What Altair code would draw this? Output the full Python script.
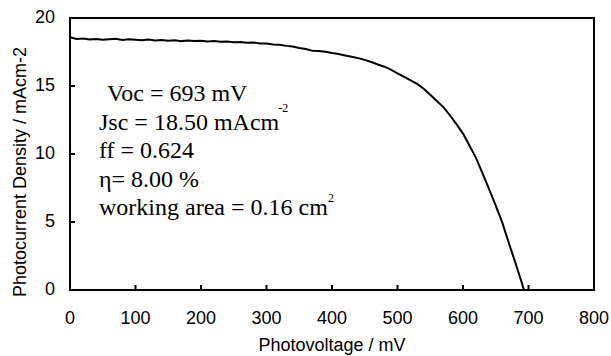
import altair as alt
import pandas as pd

# J-V curve
voltage = [0, 10, 20, 30, 40, 50, 60, 70, 80, 90,
           100, 110, 120, 130, 140, 150, 160, 170, 180, 190,
           200, 210, 220, 230, 240, 250, 260, 270, 280, 290,
           300, 310, 320, 330, 340, 350, 360, 370, 380, 390,
           400, 410, 420, 430, 440, 450, 460, 470, 480, 490,
           500, 510, 520, 530, 540, 550, 560, 570, 580, 590,
           600, 610, 620, 630, 640, 650, 660, 670, 680, 690, 693]
current = [18.58, 18.45, 18.50, 18.42, 18.46, 18.40, 18.44, 18.47, 18.38, 18.43,
           18.40, 18.36, 18.42, 18.35, 18.38, 18.32, 18.36, 18.30, 18.34, 18.31,
           18.33, 18.28, 18.30, 18.25, 18.27, 18.22, 18.24, 18.18, 18.20, 18.12,
           18.12, 18.06, 18.03, 17.95, 17.90, 17.80, 17.72, 17.60, 17.58, 17.52,
           17.42, 17.35, 17.25, 17.15, 17.05, 16.92, 16.76, 16.58, 16.42, 16.20,
           15.92, 15.68, 15.42, 15.15, 14.80, 14.35, 13.90, 13.45, 12.85, 12.20,
           11.50, 10.60, 9.70, 8.55, 7.40, 6.20, 4.95, 3.45, 2.00, 0.50, 0.00]

x_ticks = [0, 100, 200, 300, 400, 500, 600, 700, 800]
y_ticks = [0, 5, 10, 15, 20]
x_range = [0, 800]
y_range = [0, 20]
x_title = "Photovoltage / mV"
y_title = "Photocurrent Density / mAcm-2"

ann_text = ["Voc = 693 mV", "Jsc = 18.50 mAcm", "ff = 0.624", "η= 8.00 %",
            "working area = 0.16 cm"]
ann_x = [56.5, 44.3, 44.3, 44.3, 44.3]
ann_y = [13.90, 11.80, 9.71, 7.61, 5.51]

sup_text = ["-2", "2"]
sup_x = [318, 394]
sup_y = [13.08, 6.50]

W, H = 524, 272
# inward tick length, in axis units (about 5 px)
tick_len_x = 5 * (x_range[1] - x_range[0]) / W
tick_len_y = 5 * (y_range[1] - y_range[0]) / H

curve = pd.DataFrame({"V": voltage, "J": current})
ann = pd.DataFrame({"t": ann_text, "x": ann_x, "y": ann_y})
sup = pd.DataFrame({"t": sup_text, "x": sup_x, "y": sup_y})
xlab = pd.DataFrame({"v": x_ticks, "t": [str(v) for v in x_ticks]})
ylab = pd.DataFrame({"v": y_ticks, "t": [str(v) for v in y_ticks]})
titles_x = pd.DataFrame({"t": [x_title]})
titles_y = pd.DataFrame({"t": [y_title]})

# plot frame as one closed polyline
frame = pd.DataFrame({"fx": [x_range[0], x_range[0], x_range[1], x_range[1], x_range[0]],
                      "fy": [y_range[0], y_range[1], y_range[1], y_range[0], y_range[0]],
                      "o": [0, 1, 2, 3, 4]})

# tick segments built from the tick lists
tick_rows = []
for v in x_ticks:
    tick_rows.append({"k": f"x{v}", "tx": v, "ty": y_range[0], "o": 0})
    tick_rows.append({"k": f"x{v}", "tx": v, "ty": y_range[0] + tick_len_y, "o": 1})
for v in y_ticks:
    tick_rows.append({"k": f"y{v}", "tx": x_range[0], "ty": v, "o": 0})
    tick_rows.append({"k": f"y{v}", "tx": x_range[0] + tick_len_x, "ty": v, "o": 1})
ticks = pd.DataFrame(tick_rows)

xscale = alt.Scale(domain=x_range, nice=False)
yscale = alt.Scale(domain=y_range, nice=False)

sans = dict(font="Liberation Sans", fontSize=18, color="black")

line = alt.Chart(curve).mark_line(color="black", strokeWidth=2).encode(
    x=alt.X("V:Q", scale=xscale, axis=None),
    y=alt.Y("J:Q", scale=yscale, axis=None),
)

frame_line = alt.Chart(frame).mark_line(color="black", strokeWidth=2,
                                        strokeCap="square").encode(
    x=alt.X("fx:Q", scale=xscale, axis=None),
    y=alt.Y("fy:Q", scale=yscale, axis=None),
    order="o:Q",
)

tick_lines = alt.Chart(ticks).mark_line(color="black", strokeWidth=2).encode(
    x=alt.X("tx:Q", scale=xscale, axis=None),
    y=alt.Y("ty:Q", scale=yscale, axis=None),
    detail="k:N",
    order="o:Q",
)

xlabels = alt.Chart(xlab).mark_text(align="center", baseline="top", **sans).encode(
    x=alt.X("v:Q", scale=xscale, axis=None),
    y=alt.value(H + 20),
    text="t:N",
)
ylabels = alt.Chart(ylab).mark_text(align="right", baseline="middle", **sans).encode(
    y=alt.Y("v:Q", scale=yscale, axis=None),
    x=alt.value(-15),
    text="t:N",
)
xtitle = alt.Chart(titles_x).mark_text(align="center", baseline="top", **sans).encode(
    x=alt.value(W / 2), y=alt.value(H + 47), text="t:N",
)
ytitle = alt.Chart(titles_y).mark_text(align="center", baseline="middle", angle=270,
                                       **sans).encode(
    x=alt.value(-49), y=alt.value(154), text="t:N",
)

ann_marks = alt.Chart(ann).mark_text(font="Liberation Serif", fontSize=24, align="left",
                                     baseline="alphabetic", color="black").encode(
    x=alt.X("x:Q", scale=xscale, axis=None),
    y=alt.Y("y:Q", scale=yscale, axis=None),
    text="t:N")
sup_marks = alt.Chart(sup).mark_text(font="Liberation Serif", fontSize=12, align="left",
                                     baseline="alphabetic", color="black").encode(
    x=alt.X("x:Q", scale=xscale, axis=None),
    y=alt.Y("y:Q", scale=yscale, axis=None),
    text="t:N")

chart = alt.layer(line, frame_line, tick_lines, xlabels, ylabels, xtitle, ytitle,
                  ann_marks, sup_marks).properties(
    width=W, height=H,
    background="white",
    autosize=alt.AutoSizeParams(type="none"),
    padding={"left": 70, "top": 18, "right": 17, "bottom": 66},
).configure_view(stroke="black", strokeWidth=2)

chart.save("out.html", embed_options={"renderer": "svg", "actions": False})
